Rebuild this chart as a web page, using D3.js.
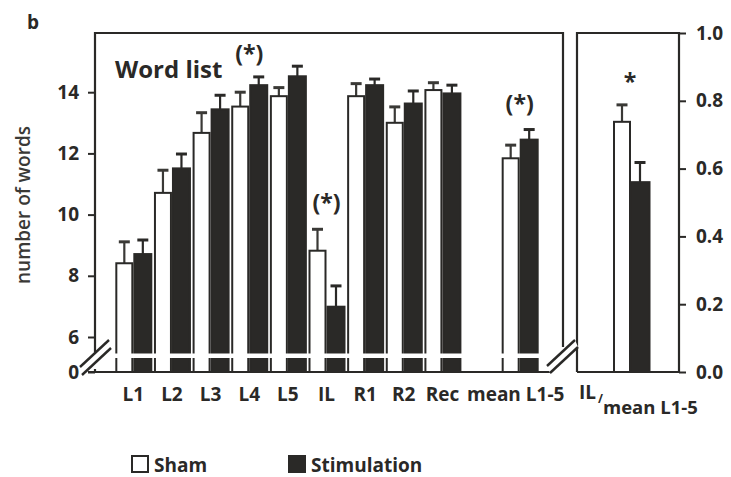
<!DOCTYPE html>
<html><head><meta charset="utf-8">
<script src="https://cdn.jsdelivr.net/npm/d3@7"></script>
<style>
html,body{margin:0;padding:0;background:#fff;}
svg{display:block;font-family:"Open Sans",sans-serif;}
</style></head>
<body>
<svg id="chart" width="731" height="477"></svg>
<script>
// ---- data ----
const categories = ["L1","L2","L3","L4","L5","IL","R1","R2","Rec","mean L1-5"];
const shamValues = [8.41, 10.71, 12.67, 13.53, 13.87, 8.82, 13.87, 13.0, 14.07, 11.84];
const shamErrors = [0.70, 0.74, 0.66, 0.47, 0.28, 0.70, 0.41, 0.52, 0.24, 0.43];
const stimValues = [8.71, 11.51, 13.44, 14.23, 14.52, 6.99, 14.23, 13.63, 13.96, 12.45];
const stimErrors = [0.46, 0.47, 0.46, 0.27, 0.33, 0.68, 0.20, 0.41, 0.27, 0.33];
const leftTicks = [0, 6, 8, 10, 12, 14];
const ratioCategory = ["IL/mean L1-5"];
const ratioSham = [0.738];
const ratioShamErr = [0.05];
const ratioStim = [0.56];
const ratioStimErr = [0.058];
const rightTicks = [0.0, 0.2, 0.4, 0.6, 0.8, 1.0];
const annotations = [
  {cat: "L4", text: "(*)", y: 62},
  {cat: "IL", text: "(*)", y: 211},
  {cat: "mean L1-5", text: "(*)", y: 112}
];
const seriesNames = ["Sham", "Stimulation"];

// ---- layout ----
const DARK = "#2a2927";
const svg = d3.select("#chart");
const topPx = 33, base = 372;
const L = {x0: 95, x1: 563};
const R = {x0: 577, x1: 679};

const y = d3.scaleLinear().domain([0, 6, 16]).range([base, 337, 31]);
const y2 = d3.scaleLinear().domain([0, 1]).range([base, topPx]);
const slotDomain = [...categories.slice(0, 9), "_gap", categories[9]];
const x = d3.scaleBand().domain(slotDomain).range([114, 539]).padding(0);
const cx = c => x(c) + x.bandwidth() / 2;
const x2 = d3.scaleBand().domain(ratioCategory).range([R.x0, R.x1]).padding(0);
const cx2 = c => x2(c) + x2.bandwidth() / 2 + 2;

// ---- bars (left) ----
const data = categories.map((c, i) => ({c, sham: shamValues[i], se: shamErrors[i], stim: stimValues[i], te: stimErrors[i]}));
const g = svg.append("g");

function bar(sel, xs, w, v, fill) {
  sel.append("rect").attr("x", xs).attr("width", w)
    .attr("y", v).attr("height", base - v)
    .attr("fill", fill).attr("stroke", DARK).attr("stroke-width", 2);
}
function err(sel, xc, vTop, vErr, col) {
  sel.append("line").attr("x1", xc).attr("x2", xc).attr("y1", vTop).attr("y2", vErr)
    .attr("stroke", col).attr("stroke-width", 2.2);
  sel.append("line").attr("x1", xc - 5.5).attr("x2", xc + 5.5).attr("y1", vErr).attr("y2", vErr)
    .attr("stroke", col).attr("stroke-width", 3);
}
data.forEach(d => {
  const c = cx(d.c);
  err(g, c - 9, y(d.sham), y(d.sham + d.se), "#3a3936");
  err(g, c + 9.5, y(d.stim), y(d.stim + d.te), DARK);
  bar(g, c - 17, 16, y(d.sham), "#fff");
  bar(g, c + 1, 17, y(d.stim), DARK);
});

// ---- bars (right) ----
const rc = cx2(ratioCategory[0]);
err(g, rc - 8, y2(ratioSham[0]), y2(ratioSham[0] + ratioShamErr[0]), "#3a3936");
err(g, rc + 10, y2(ratioStim[0]), y2(ratioStim[0] + ratioStimErr[0]), DARK);
bar(g, rc - 16, 16, y2(ratioSham[0]), "#fff");
bar(g, rc + 0.5, 19, y2(ratioStim[0]), DARK);

// white break band through left bars
g.append("rect").attr("x", 97).attr("width", 455).attr("y", 353.5).attr("height", 4.5).attr("fill", "#fff");

// ---- frames ----
const fr = svg.append("g").attr("stroke", DARK).attr("stroke-width", 2.2).attr("fill", "none");
fr.append("path").attr("d", `M${L.x0},352 V${topPx} H${L.x1} V347`);
fr.append("path").attr("d", `M${L.x0},369 V${base}`);
fr.append("path").attr("d", `M88,${base} H551`);
fr.append("path").attr("d", `M${R.x0},${base} V${topPx} H${R.x1} V${base} H${R.x0}`);

// break marks
function brk(x1, y1, x2_, y2_, dx, dy) {
  svg.append("path").attr("d", `M${x1},${y1} L${x2_},${y2_} L${x2_+dx},${y2_+dy} L${x1+dx},${y1+dy} Z`).attr("fill", "#fff");
  svg.append("line").attr("x1", x1).attr("y1", y1).attr("x2", x2_).attr("y2", y2_).attr("stroke", DARK).attr("stroke-width", 2.4);
  svg.append("line").attr("x1", x1 + dx).attr("y1", y1 + dy).attr("x2", x2_ + dx).attr("y2", y2_ + dy).attr("stroke", DARK).attr("stroke-width", 2.4);
}
brk(80, 367, 109, 340, 2, 8);
brk(547, 366, 575, 340, 3, 7);

// ---- axes ----
const ax = svg.append("g").attr("transform", `translate(${L.x0},0)`)
  .call(d3.axisLeft(y).tickValues(leftTicks).tickSize(7).tickPadding(9).tickFormat(d3.format("d")));
ax.select(".domain").remove();
ax.selectAll(".tick line").attr("stroke", DARK).attr("stroke-width", 2);
ax.selectAll(".tick text").attr("fill", DARK).style("font-size", "19px").style("font-weight", 700);

const ax2 = svg.append("g").attr("transform", `translate(${R.x1},0)`)
  .call(d3.axisRight(y2).tickValues(rightTicks).tickSize(7).tickPadding(10).tickFormat(d3.format(".1f")));
ax2.select(".domain").remove();
ax2.selectAll(".tick line").attr("stroke", DARK).attr("stroke-width", 2);
ax2.selectAll(".tick text").attr("fill", DARK).style("font-size", "19px").style("font-weight", 700);
svg.selectAll(".tick text").attr("font-family", "Open Sans");

// x labels
svg.append("g").selectAll("text").data(categories).join("text")
  .attr("x", d => cx(d) + (d === "mean L1-5" ? -4 : 0)).attr("y", 401).attr("text-anchor", "middle")
  .attr("fill", DARK).style("font-size", "19px").style("font-weight", 700)
  .text(d => d);

const parts = ratioCategory[0].split("/");
const rlStyle = s => s.attr("fill", DARK).style("font-weight", 700);
rlStyle(svg.append("text").attr("x", 579).attr("y", 399).style("font-size", "19px").text(parts[0]));
rlStyle(svg.append("text").attr("x", 598).attr("y", 403).style("font-size", "12px").text("/"));
rlStyle(svg.append("text").attr("x", 603).attr("y", 414).style("font-size", "18.5px").text(parts[1]));

// annotations
svg.append("g").selectAll("text").data(annotations).join("text")
  .attr("x", d => cx(d.cat)).attr("y", d => d.y).attr("text-anchor", "middle")
  .attr("fill", DARK).style("font-size", "23px").style("font-weight", 700).text(d => d.text);
svg.append("text").attr("x", rc).attr("y", 90).attr("text-anchor", "middle")
  .attr("fill", DARK).style("font-size", "23px").style("font-weight", 700).text("*");

// titles
svg.append("text").attr("x", 115).attr("y", 78).attr("fill", DARK)
  .style("font-size", "24px").style("font-weight", 700).text("Word list");
svg.append("text").attr("x", 27).attr("y", 29).attr("fill", DARK)
  .style("font-size", "19px").style("font-weight", 700).text("b");
svg.append("text").attr("transform", "translate(30,205) rotate(-90)").attr("text-anchor", "middle")
  .attr("fill", "#3a3936").style("font-size", "19px").style("font-weight", 600).text("number of words");

// legend
const lg = svg.append("g");
const legX = [132, 289];
seriesNames.forEach((n, i) => {
  lg.append("rect").attr("x", legX[i]).attr("y", 456).attr("width", 16).attr("height", 16)
    .attr("fill", i === 0 ? "#fff" : DARK).attr("stroke", DARK).attr("stroke-width", 2);
  lg.append("text").attr("x", legX[i] + 22).attr("y", 472).attr("fill", DARK)
    .style("font-size", "19px").style("font-weight", 700).text(n);
});
</script>
</body></html>
